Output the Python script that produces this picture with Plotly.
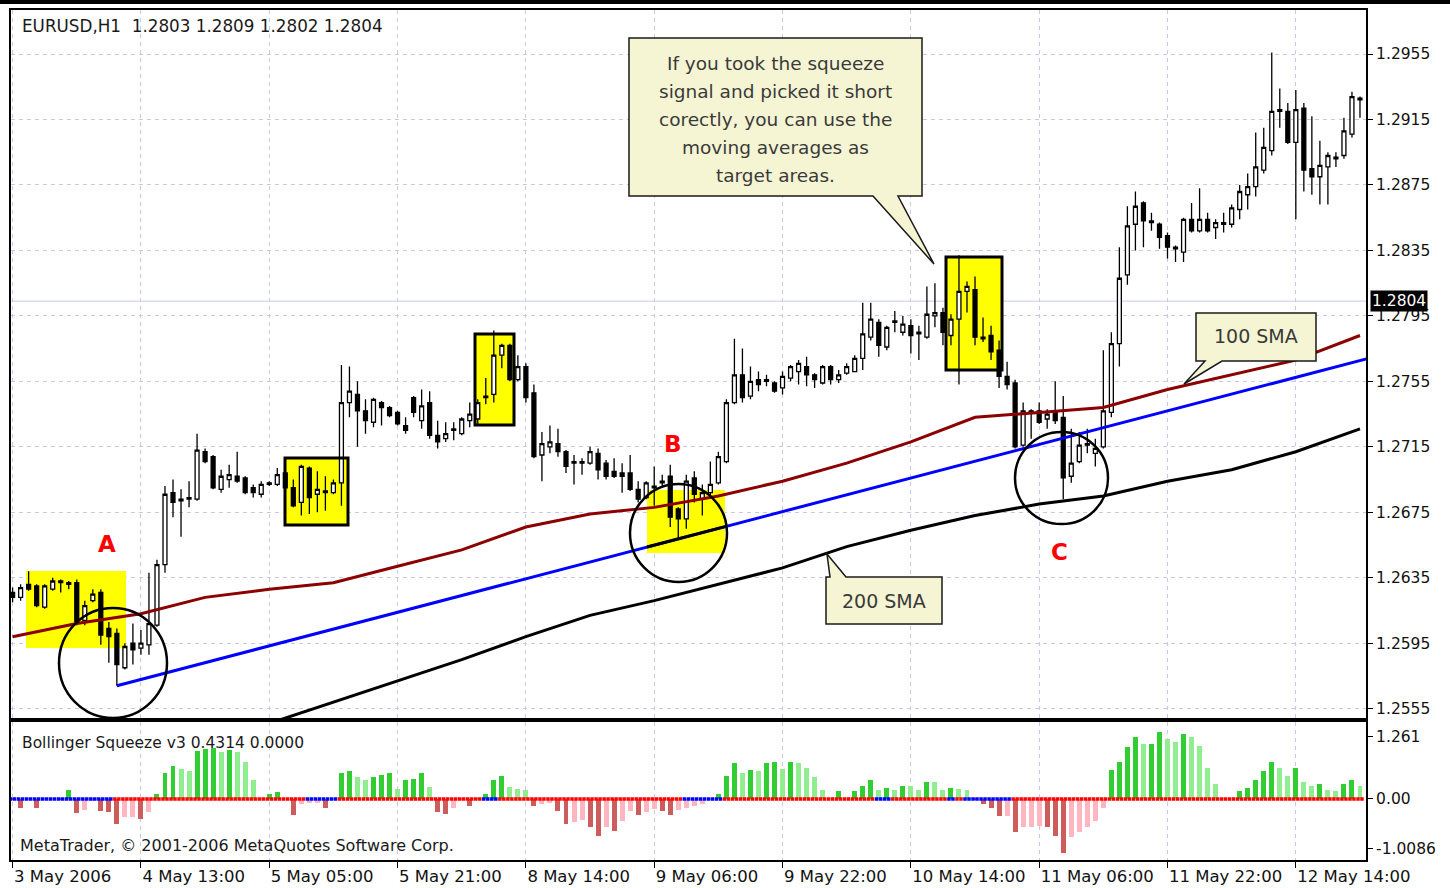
import plotly.graph_objects as go
from plotly.subplots import make_subplots

# ============================================================
# DATA (EURUSD H1)
# ============================================================
TIME_TICK_BARS = [0, 16, 32, 48, 64, 80, 96, 112, 128, 144, 160]
TIME_LABELS = ["3 May 2006", "4 May 13:00", "5 May 05:00", "5 May 21:00",
               "8 May 14:00", "9 May 06:00", "9 May 22:00", "10 May 14:00",
               "11 May 06:00", "11 May 22:00", "12 May 14:00"]

PRICE_TICKS = [1.2955, 1.2915, 1.2875, 1.2835, 1.2795, 1.2755,
               1.2715, 1.2675, 1.2635, 1.2595, 1.2555]
IND_TICKS = [1.261, 0.0, -1.0086]
IND_TICK_TEXT = ["1.261", "0.00", "-1.0086"]
LAST_PRICE = 1.2804

OPEN = [
    1.2626, 1.2623, 1.2631, 1.2630, 1.2617, 1.2628, 1.2633, 1.2632, 1.2632, 1.2609,
    1.2621, 1.2626, 1.2604, 1.2601, 1.2580, 1.2595, 1.2592, 1.2594, 1.2606, 1.2643,
    1.2687, 1.2683, 1.2683, 1.2683, 1.2712, 1.2709, 1.2689, 1.2695, 1.2697, 1.2696,
    1.2690, 1.2686, 1.2693, 1.2692, 1.2699, 1.2690, 1.2681, 1.2702, 1.2686, 1.2687,
    1.2687, 1.2693, 1.2742, 1.2747, 1.2737, 1.2730, 1.2742, 1.2739, 1.2736, 1.2728,
    1.2745, 1.2731, 1.2742, 1.2722, 1.2720, 1.2725, 1.2723, 1.2731, 1.2732, 1.2745,
    1.2747, 1.2771, 1.2777, 1.2756, 1.2764, 1.2748, 1.2710, 1.2715, 1.2717, 1.2712,
    1.2705, 1.2706, 1.2705, 1.2711, 1.2705, 1.2700, 1.2699, 1.2699, 1.2689, 1.2684,
    1.2691, 1.2693, 1.2697, 1.2677, 1.2671, 1.2696, 1.2683, 1.2687, 1.2693, 1.2706,
    1.2742, 1.2759, 1.2746, 1.2756, 1.2756, 1.2754, 1.2751, 1.2757, 1.2761, 1.2764,
    1.2759, 1.2754, 1.2764, 1.2756, 1.2760, 1.2761, 1.2769, 1.2782, 1.2791, 1.2776,
    1.2791, 1.2785, 1.2789, 1.2785, 1.2782, 1.2795, 1.2797, 1.2783, 1.2793, 1.2810,
    1.2811, 1.2782, 1.2783, 1.2774, 1.2758, 1.2754, 1.2716, 1.2737, 1.2737, 1.2732,
    1.2736, 1.2733, 1.2697, 1.2706, 1.2717, 1.2711, 1.2715, 1.2736, 1.2778, 1.2820,
    1.2851, 1.2864, 1.2852, 1.2851, 1.2844, 1.2837, 1.2834, 1.2854, 1.2847, 1.2854,
    1.2849, 1.2852, 1.2851, 1.2860, 1.2869, 1.2874, 1.2884, 1.2896, 1.2920, 1.2920,
    1.2901, 1.2922, 1.2885, 1.2880, 1.2886, 1.2891, 1.2893, 1.2906, 1.2928,
]
HIGH = [
    1.2629, 1.2631, 1.2639, 1.2631, 1.2631, 1.2635, 1.2634, 1.2633, 1.2634, 1.2621,
    1.2628, 1.2628, 1.2608, 1.2604, 1.2595, 1.2607, 1.2603, 1.2638, 1.2646, 1.2691,
    1.2695, 1.2689, 1.2694, 1.2723, 1.2714, 1.2710, 1.2701, 1.2704, 1.2712, 1.2697,
    1.2692, 1.2694, 1.2694, 1.2702, 1.2701, 1.2695, 1.2704, 1.2703, 1.2700, 1.2697,
    1.2695, 1.2765, 1.2764, 1.2755, 1.2744, 1.2745, 1.2743, 1.2740, 1.2737, 1.2733,
    1.2746, 1.2750, 1.2749, 1.2731, 1.2730, 1.2730, 1.2733, 1.2742, 1.2744, 1.2757,
    1.2786, 1.2778, 1.2778, 1.2771, 1.2766, 1.2753, 1.2724, 1.2728, 1.2726, 1.2713,
    1.2710, 1.2708, 1.2715, 1.2714, 1.2707, 1.2708, 1.2705, 1.2710, 1.2694, 1.2694,
    1.2703, 1.2698, 1.2704, 1.2678, 1.2698, 1.2700, 1.2692, 1.2706, 1.2712, 1.2744,
    1.2781, 1.2775, 1.2764, 1.2761, 1.2759, 1.2755, 1.2761, 1.2765, 1.2768, 1.2770,
    1.2760, 1.2765, 1.2765, 1.2762, 1.2766, 1.2771, 1.2803, 1.2803, 1.2793, 1.2789,
    1.2798, 1.2795, 1.2793, 1.2789, 1.2813, 1.2815, 1.2800, 1.2796, 1.2832, 1.2816,
    1.2819, 1.2794, 1.2789, 1.2780, 1.2767, 1.2756, 1.2742, 1.2738, 1.2742, 1.2738,
    1.2755, 1.2746, 1.2726, 1.2724, 1.2726, 1.2720, 1.2774, 1.2785, 1.2837, 1.2862,
    1.2871, 1.2865, 1.2858, 1.2852, 1.2846, 1.2838, 1.2855, 1.2864, 1.2873, 1.2858,
    1.2854, 1.2858, 1.2863, 1.2875, 1.2882, 1.2907, 1.2910, 1.2956, 1.2934, 1.2925,
    1.2933, 1.2925, 1.2917, 1.2902, 1.2895, 1.2895, 1.2916, 1.2932, 1.2929,
]
LOW = [
    1.2620, 1.2621, 1.2627, 1.2617, 1.2616, 1.2627, 1.2626, 1.2628, 1.2606, 1.2606,
    1.2620, 1.2594, 1.2583, 1.2569, 1.2579, 1.2582, 1.2588, 1.2588, 1.2605, 1.2638,
    1.2672, 1.2660, 1.2678, 1.2682, 1.2705, 1.2689, 1.2687, 1.2690, 1.2693, 1.2686,
    1.2684, 1.2684, 1.2691, 1.2691, 1.2689, 1.2678, 1.2673, 1.2674, 1.2675, 1.2676,
    1.2686, 1.2679, 1.2733, 1.2715, 1.2723, 1.2727, 1.2728, 1.2733, 1.2728, 1.2723,
    1.2733, 1.2726, 1.2720, 1.2714, 1.2718, 1.2719, 1.2722, 1.2727, 1.2728, 1.2741,
    1.2742, 1.2763, 1.2755, 1.2755, 1.2742, 1.2708, 1.2694, 1.2711, 1.2709, 1.2699,
    1.2692, 1.2698, 1.2704, 1.2695, 1.2695, 1.2696, 1.2687, 1.2688, 1.2681, 1.2683,
    1.2679, 1.2690, 1.2666, 1.2659, 1.2665, 1.2681, 1.2673, 1.2684, 1.2692, 1.2705,
    1.2741, 1.2742, 1.2744, 1.2749, 1.2752, 1.2748, 1.2747, 1.2755, 1.2753, 1.2752,
    1.2751, 1.2753, 1.2753, 1.2754, 1.2759, 1.2761, 1.2762, 1.2780, 1.2770, 1.2774,
    1.2785, 1.2783, 1.2772, 1.2768, 1.2781, 1.2788, 1.2777, 1.2777, 1.2753, 1.2797,
    1.2777, 1.2779, 1.2768, 1.2751, 1.2750, 1.2714, 1.2715, 1.2720, 1.2729, 1.2726,
    1.2729, 1.2683, 1.2693, 1.2705, 1.2711, 1.2703, 1.2714, 1.2733, 1.2764, 1.2814,
    1.2835, 1.2837, 1.2847, 1.2836, 1.2830, 1.2828, 1.2828, 1.2846, 1.2846, 1.2846,
    1.2842, 1.2846, 1.2849, 1.2854, 1.2860, 1.2868, 1.2882, 1.2893, 1.2910, 1.2900,
    1.2854, 1.2871, 1.2869, 1.2863, 1.2863, 1.2886, 1.2891, 1.2904, 1.2916,
]
CLOSE = [
    1.2623, 1.2629, 1.2628, 1.2618, 1.2630, 1.2633, 1.2632, 1.2631, 1.2608, 1.2618,
    1.2625, 1.2600, 1.2599, 1.2582, 1.2593, 1.2591, 1.2595, 1.2607, 1.2643, 1.2686,
    1.2681, 1.2682, 1.2684, 1.2713, 1.2706, 1.2690, 1.2697, 1.2698, 1.2694, 1.2687,
    1.2687, 1.2692, 1.2692, 1.2698, 1.2690, 1.2679, 1.2703, 1.2684, 1.2689, 1.2688,
    1.2693, 1.2742, 1.2749, 1.2737, 1.2731, 1.2744, 1.2739, 1.2734, 1.2729, 1.2725,
    1.2736, 1.2740, 1.2722, 1.2718, 1.2723, 1.2726, 1.2732, 1.2735, 1.2742, 1.2746,
    1.2771, 1.2777, 1.2756, 1.2764, 1.2745, 1.2709, 1.2717, 1.2718, 1.2712, 1.2703,
    1.2706, 1.2705, 1.2712, 1.2701, 1.2697, 1.2697, 1.2697, 1.2689, 1.2683, 1.2693,
    1.2690, 1.2694, 1.2672, 1.2671, 1.2694, 1.2686, 1.2687, 1.2692, 1.2709, 1.2742,
    1.2759, 1.2745, 1.2755, 1.2753, 1.2755, 1.2749, 1.2758, 1.2764, 1.2766, 1.2759,
    1.2756, 1.2764, 1.2756, 1.2759, 1.2764, 1.2769, 1.2784, 1.2793, 1.2777, 1.2788,
    1.2792, 1.2790, 1.2783, 1.2784, 1.2796, 1.2797, 1.2785, 1.2793, 1.2810, 1.2813,
    1.2782, 1.2781, 1.2773, 1.2758, 1.2753, 1.2715, 1.2737, 1.2736, 1.2730, 1.2735,
    1.2731, 1.2696, 1.2705, 1.2716, 1.2716, 1.2714, 1.2737, 1.2778, 1.2818, 1.2850,
    1.2862, 1.2853, 1.2853, 1.2843, 1.2837, 1.2836, 1.2854, 1.2847, 1.2854, 1.2847,
    1.2852, 1.2851, 1.2861, 1.2871, 1.2874, 1.2886, 1.2898, 1.2920, 1.2921, 1.2901,
    1.2921, 1.2884, 1.2880, 1.2887, 1.2893, 1.2892, 1.2908, 1.2929, 1.2927,
]

# moving averages (sampled every 8 bars)
SMA100_BARS = list(range(0, 169, 8))
SMA100 = [1.2599, 1.2607, 1.2613, 1.2623, 1.2628, 1.2632, 1.2642, 1.2652, 1.2666, 1.2674,
          1.2678, 1.2685, 1.2694, 1.2705, 1.2718, 1.2733, 1.2736, 1.2739, 1.2750, 1.2759,
          1.2768, 1.2783]
SMA200_BARS = list(range(32, 169, 8))
SMA200 = [1.2546, 1.2559, 1.2572, 1.2585, 1.2599, 1.2612, 1.2621, 1.2631, 1.2641, 1.2654,
          1.2664, 1.2673, 1.2680, 1.2685, 1.2694, 1.2701, 1.2712, 1.2726]

# blue trendline drawn from the low at A
TREND_BARS = [13, 169]
TREND_PRICES = [1.2569, 1.2769]

# Bollinger Squeeze histogram
SQUEEZE = [
    -0.02, -0.18, -0.03, -0.18, -0.03, -0.02, -0.02, 0.18, -0.29, -0.22,
    -0.04, -0.25, -0.26, -0.50, -0.37, -0.36, -0.40, -0.27, 0.10, 0.53,
    0.68, 0.60, 0.56, 0.98, 1.02, 1.04, 0.95, 1.00, 0.95, 0.76,
    0.39, 0.02, 0.10, 0.14, 0.02, -0.33, -0.10, -0.09, -0.08, -0.18,
    -0.02, 0.53, 0.56, 0.45, 0.39, 0.45, 0.49, 0.53, 0.20, 0.39,
    0.40, 0.53, 0.25, -0.27, -0.30, -0.18, -0.03, -0.14, 0.02, 0.10,
    0.39, 0.47, 0.25, 0.20, 0.19, -0.14, -0.10, -0.08, -0.24, -0.50,
    -0.47, -0.42, -0.57, -0.75, -0.57, -0.66, -0.45, -0.24, -0.33, -0.27,
    -0.20, -0.24, -0.33, -0.22, -0.18, -0.14, -0.10, -0.03, 0.10, 0.47,
    0.73, 0.53, 0.59, 0.56, 0.73, 0.75, 0.60, 0.75, 0.73, 0.63,
    0.45, 0.19, 0.02, 0.16, 0.02, 0.16, 0.27, 0.39, 0.19, 0.22,
    0.19, 0.27, 0.26, 0.19, 0.35, 0.34, 0.19, 0.22, 0.21, 0.19,
    -0.02, -0.10, -0.18, -0.35, -0.34, -0.67, -0.57, -0.56, -0.55, -0.57,
    -0.75, -1.10, -0.78, -0.67, -0.57, -0.45, -0.18, 0.59, 0.75, 1.05,
    1.26, 1.12, 1.12, 1.36, 1.22, 1.15, 1.32, 1.26, 1.08, 0.63,
    0.30, 0.02, 0.00, 0.16, 0.22, 0.39, 0.56, 0.75, 0.63, 0.47,
    0.63, 0.35, 0.27, 0.30, 0.19, 0.16, 0.30, 0.39, 0.27,
]
# bars where the squeeze is "on" (blue dots), otherwise red
SQUEEZE_ON = [0, 1, 2, 3, 4, 5, 6, 7, 8, 9, 10, 11, 12, 37, 38, 39, 40, 59, 60,
              84, 85, 86, 87, 88, 108, 109, 117, 119, 120, 121, 122, 123, 124]

BARS = list(range(len(OPEN)))

# ============================================================
# GEOMETRY HELPERS (plot area: x 11..1366 px, y 10..860 px)
# ============================================================
X_RANGE = [-0.2, 168.75]
PRICE_RANGE = [1.25493, 1.29819]
IND_RANGE = [-1.24, 1.565]


def xd(px):
    return X_RANGE[0] + (px - 11) * (X_RANGE[1] - X_RANGE[0]) / 1355


def yd(py):
    return PRICE_RANGE[1] - (py - 10) * (PRICE_RANGE[1] - PRICE_RANGE[0]) / 708


def xp(px):
    return (px - 11) / 1355


def yp(py):
    return (860 - py) / 850


def trend_at(b):
    t = (b - TREND_BARS[0]) / (TREND_BARS[1] - TREND_BARS[0])
    return TREND_PRICES[0] + t * (TREND_PRICES[1] - TREND_PRICES[0])


GRID = "#c8c8ee"
FONT = "DejaVu Sans"

fig = make_subplots(rows=2, cols=1, shared_xaxes=True, vertical_spacing=0.005)

# candles
fig.add_trace(go.Candlestick(
    x=BARS, open=OPEN, high=HIGH, low=LOW, close=CLOSE,
    increasing=dict(line=dict(color="black", width=1.3), fillcolor="white"),
    decreasing=dict(line=dict(color="black", width=1.3), fillcolor="black"),
    whiskerwidth=0, showlegend=False, hoverinfo="skip"), row=1, col=1)

# moving averages + trendline
fig.add_trace(go.Scatter(x=SMA100_BARS, y=SMA100, mode="lines",
                         line=dict(color="#8b0000", width=3), hoverinfo="skip"), row=1, col=1)
fig.add_trace(go.Scatter(x=SMA200_BARS, y=SMA200, mode="lines",
                         line=dict(color="black", width=3), hoverinfo="skip"), row=1, col=1)
fig.add_trace(go.Scatter(x=TREND_BARS, y=TREND_PRICES, mode="lines",
                         line=dict(color="#0000ff", width=3), hoverinfo="skip"), row=1, col=1)
# the trendline shows black inside the highlighted zone at B
seg = [xd(647), xd(725)]
fig.add_trace(go.Scatter(x=seg, y=[trend_at(b) for b in seg], mode="lines",
                         line=dict(color="black", width=3), hoverinfo="skip"), row=1, col=1)

# squeeze histogram, colour by direction
colors = []
for i, v in enumerate(SQUEEZE):
    prev = SQUEEZE[i - 1] if i > 0 else 0
    if v >= 0:
        colors.append("#32cd32" if v >= prev else "#90ee90")
    else:
        colors.append("#cd5c5c" if v <= prev else "#ffb6c1")
fig.add_trace(go.Bar(x=BARS, y=SQUEEZE, marker=dict(color=colors, line=dict(width=0)),
                     width=0.62, hoverinfo="skip"), row=2, col=1)

# squeeze dots on the zero line
dot_x, dot_c = [], []
for b in BARS:
    c = "#0000ff" if b in SQUEEZE_ON else "#ff0000"
    dot_x += [b - 0.25, b + 0.25]
    dot_c += [c, c]
fig.add_trace(go.Scatter(x=dot_x, y=[0] * len(dot_x), mode="markers",
                         marker=dict(symbol="square", size=3.5, color=dot_c, line=dict(width=0)),
                         hoverinfo="skip"), row=2, col=1)

# ============================================================
# SHAPES
# ============================================================
shapes = []
# highlighted zones
for (x0, y0, x1, y1, border) in [(26, 571, 126, 648, False), (647, 490, 725, 553, False),
                                 (285, 458, 348, 525, True), (475, 334, 514, 425, True),
                                 (946, 257, 1002, 370, True)]:
    shapes.append(dict(type="rect", xref="x", yref="y", x0=xd(x0), x1=xd(x1), y0=yd(y1), y1=yd(y0),
                       fillcolor="#ffff00", line=dict(width=0), layer="between"))
    if border:
        shapes.append(dict(type="rect", xref="x", yref="y", x0=xd(x0), x1=xd(x1), y0=yd(y1), y1=yd(y0),
                           line=dict(color="black", width=3), layer="above"))
# circles
for (x0, y0, x1, y1) in [(59, 608, 167, 718), (630, 484, 727, 582), (1015, 432, 1108, 524)]:
    shapes.append(dict(type="circle", xref="x", yref="y", x0=xd(x0), x1=xd(x1), y0=yd(y1), y1=yd(y0),
                       line=dict(color="black", width=2.5), layer="above"))


def callout(points):
    path = "M " + " L ".join(f"{xd(px)},{yd(py)}" for px, py in points) + " Z"
    return dict(type="path", xref="x", yref="y", path=path, fillcolor="#f5f5d3",
                line=dict(color="#1a1a1a", width=1.5), layer="above")


shapes.append(callout([(629, 38), (922, 38), (922, 196), (898, 196), (934, 264), (873, 196), (629, 196)]))
shapes.append(callout([(826, 577), (830, 577), (827, 554), (846, 577), (942, 577), (942, 624), (826, 624)]))
shapes.append(callout([(1196, 313), (1316, 313), (1316, 361), (1222, 361), (1184, 384), (1205, 361), (1196, 361)]))

# last price line
shapes.append(dict(type="line", xref="paper", yref="y", x0=0, x1=1, y0=LAST_PRICE, y1=LAST_PRICE,
                   line=dict(color=GRID, width=1), layer="below"))
# top black strip
shapes.append(dict(type="rect", xref="paper", yref="paper", x0=xp(0), x1=xp(1450), y0=yp(4), y1=yp(0),
                   fillcolor="black", line=dict(width=0)))

# ============================================================
# ANNOTATIONS
# ============================================================
ann = []
ann.append(dict(text="EURUSD,H1\u00a0 1.2803 1.2809 1.2802 1.2804", x=xp(20), y=yp(26),
                xref="paper", yref="paper", xanchor="left", yanchor="middle", showarrow=False,
                font=dict(family=FONT, size=16.8, color="#1a1a1a")))
ann.append(dict(text="Bollinger Squeeze v3 0.4314 0.0000", x=xp(20), y=yp(743),
                xref="paper", yref="paper", xanchor="left", yanchor="middle", showarrow=False,
                font=dict(family=FONT, size=15.5, color="#1a1a1a")))
ann.append(dict(text="MetaTrader, © 2001-2006 MetaQuotes Software Corp.", x=xp(18), y=yp(845),
                xref="paper", yref="paper", xanchor="left", yanchor="middle", showarrow=False,
                font=dict(family=FONT, size=16, color="#1a1a1a")))
for letter, px, py in [("A", 107, 544), ("B", 673, 444), ("C", 1059, 552)]:
    ann.append(dict(text=f"<b>{letter}</b>", x=xd(px), y=yd(py), xref="x", yref="y",
                    showarrow=False, font=dict(family=FONT, size=23, color="#ff0000")))
callout_lines = ["If you took the squeeze", "signal and picked it short",
                 "corectly, you can use the", "moving averages as", "target areas."]
for k, line in enumerate(callout_lines):
    ann.append(dict(text=line, x=xd(775), y=yd(63 + 28 * k), xref="x", yref="y",
                    showarrow=False, font=dict(family=FONT, size=18.5, color="#3a3a3a")))
ann.append(dict(text="200 SMA", x=xd(884), y=yd(601), xref="x", yref="y", showarrow=False,
                font=dict(family=FONT, size=19, color="#3a3a3a")))
ann.append(dict(text="100 SMA", x=xd(1256), y=yd(336), xref="x", yref="y", showarrow=False,
                font=dict(family=FONT, size=19, color="#3a3a3a")))
ann.append(dict(text=f"{LAST_PRICE:.4f}", x=1, y=LAST_PRICE, xref="paper", yref="y",
                xanchor="left", yanchor="middle", xshift=4, showarrow=False, bgcolor="black",
                borderpad=1, font=dict(family=FONT, size=15.5, color="white")))

# ============================================================
# LAYOUT
# ============================================================
fig.update_layout(
    width=1450, height=888, autosize=False,
    margin=dict(l=11, r=84, t=10, b=28, autoexpand=False),
    paper_bgcolor="white", plot_bgcolor="white",
    showlegend=False, hovermode=False,
    font=dict(family=FONT, size=16, color="#111111"),
    shapes=shapes, annotations=ann,
    xaxis=dict(range=X_RANGE, tickvals=TIME_TICK_BARS, showticklabels=False, ticks="",
               showgrid=True, gridcolor=GRID, griddash="4px,4px", gridwidth=1, zeroline=False,
               showline=True, mirror=True, linecolor="black", linewidth=2, automargin=False,
               rangeslider=dict(visible=False)),
    xaxis2=dict(range=X_RANGE, tickvals=TIME_TICK_BARS, ticktext=TIME_LABELS,
                ticks="outside", ticklen=6, tickcolor="black", ticklabelposition="outside right",
                tickfont=dict(size=16.5), automargin=False,
                showgrid=True, gridcolor=GRID, griddash="4px,4px", gridwidth=1, zeroline=False,
                showline=True, mirror=True, linecolor="black", linewidth=2),
    yaxis=dict(domain=[yp(718), 1], range=PRICE_RANGE, side="right",
               tickvals=PRICE_TICKS, ticktext=[f"{t:.4f}" for t in PRICE_TICKS],
               ticks="outside", ticklen=5, tickcolor="black", tickfont=dict(size=15.5),
               showgrid=True, gridcolor=GRID, griddash="4px,4px", gridwidth=1, zeroline=False,
               showline=True, mirror=True, linecolor="black", linewidth=2, automargin=False),
    yaxis2=dict(domain=[0, yp(722)], range=IND_RANGE, side="right",
                tickvals=IND_TICKS, ticktext=IND_TICK_TEXT,
                ticks="outside", ticklen=5, tickcolor="black", tickfont=dict(size=15.5),
                showgrid=False, zeroline=False, automargin=False,
                showline=True, mirror=True, linecolor="black", linewidth=2),
    bargap=0,
)

# page body has a default 8px margin; drop it so the chart sits at the window corner
fig.write_html("out.html",
               config={"displayModeBar": False, "responsive": False},
               post_script="document.body.style.margin='0';"
                           "document.documentElement.style.overflow='hidden';")
